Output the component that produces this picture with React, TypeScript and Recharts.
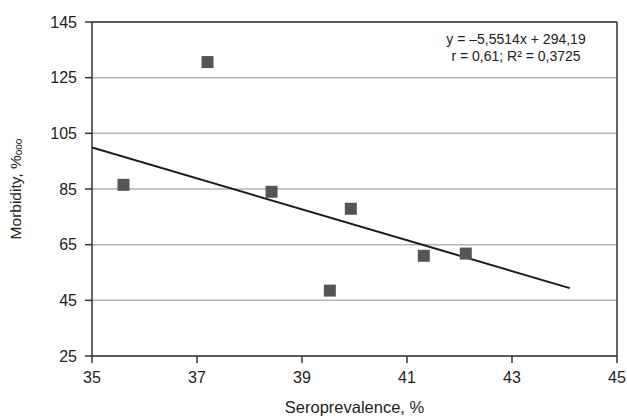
import React from "react";
import {
  ScatterChart,
  Scatter,
  XAxis,
  YAxis,
  CartesianGrid,
  ReferenceLine,
} from "recharts";

const seroprevalence = [35.6, 37.2, 38.42, 39.53, 39.93, 41.32, 42.12];
const morbidity = [86.5, 130.6, 84.0, 48.5, 77.9, 61.0, 61.8];
const trendX = [35, 44.1];
const trendY = [99.9, 49.4];
const xTicks = [35, 37, 39, 41, 43, 45];
const yTicks = [25, 45, 65, 85, 105, 125, 145];
const equationLine = "y = –5,5514x + 294,19";
const statsLine = "r = 0,61; R² = 0,3725";

const points = seroprevalence.map((x, i) => ({ x, y: morbidity[i] }));
const trend = trendX.map((x, i) => ({ x, y: trendY[i] }));

const FONT = "'Liberation Sans', Arial, sans-serif";

const Square = (props: any) => {
  const { cx, cy } = props;
  const s = 12;
  return <rect x={cx - s / 2} y={cy - s / 2} width={s} height={s} fill="#555555" />;
};

const YLabel = () => (
  <text
    x={15}
    y={189}
    transform="rotate(-90 15 189)"
    textAnchor="middle"
    dominantBaseline="central"
    fontFamily={FONT}
    fontSize={15.5}
    fill="#222"
  >
    Morbidity, %
    <tspan fontSize={10} dy={3}>ooo</tspan>
  </text>
);

const XLabel = (props: any) => {
  const vb = props.viewBox || {};
  const cx = (vb.x ?? 92) + (vb.width ?? 525) / 2;
  return (
    <text
      x={cx}
      y={413}
      textAnchor="middle"
      fontFamily={FONT}
      fontSize={16.5}
      fill="#222"
    >
      Seroprevalence, %
    </text>
  );
};

export default function App() {
  return (
    <div style={{ position: "absolute", left: 0, top: 0, width: 627, height: 418, background: "#fff" }}>
      <ScatterChart
        width={627}
        height={418}
        margin={{ top: 22, right: 10, bottom: 0, left: 0 }}
      >
        <CartesianGrid vertical={false} stroke="#b5b5b5" strokeWidth={1.5} />
        <XAxis
          type="number"
          dataKey="x"
          domain={[35, 45]}
          ticks={xTicks}
          allowDataOverflow
          height={62}
          stroke="#333"
          strokeWidth={1.5}
          tickSize={7}
          tickMargin={9}
          tick={{ fill: "#222", fontSize: 16, fontFamily: FONT }}
          label={<XLabel />}
        />
        <YAxis
          type="number"
          dataKey="y"
          domain={[25, 145]}
          ticks={yTicks}
          allowDataOverflow
          width={92}
          stroke="#333"
          strokeWidth={1.5}
          tickSize={7}
          tickMargin={8}
          tick={{ fill: "#222", fontSize: 16, fontFamily: FONT }}
          label={<YLabel />}
        />
        <ReferenceLine y={145} stroke="#333" strokeWidth={1.5} />
        <ReferenceLine x={45} stroke="#333" strokeWidth={1.5} />
        <Scatter
          data={trend}
          line={{ stroke: "#1a1a1a", strokeWidth: 2 }}
          shape={() => null}
          isAnimationActive={false}
        />
        <Scatter data={points} shape={<Square />} isAnimationActive={false} />
      </ScatterChart>
      <div
        style={{
          position: "absolute",
          left: 416,
          top: 31,
          width: 200,
          textAlign: "center",
          fontFamily: FONT,
          fontSize: 14,
          lineHeight: "17px",
          color: "#222",
          background: "#fff",
        }}
      >
        <div>{equationLine}</div>
        <div>{statsLine}</div>
      </div>
    </div>
  );
}
